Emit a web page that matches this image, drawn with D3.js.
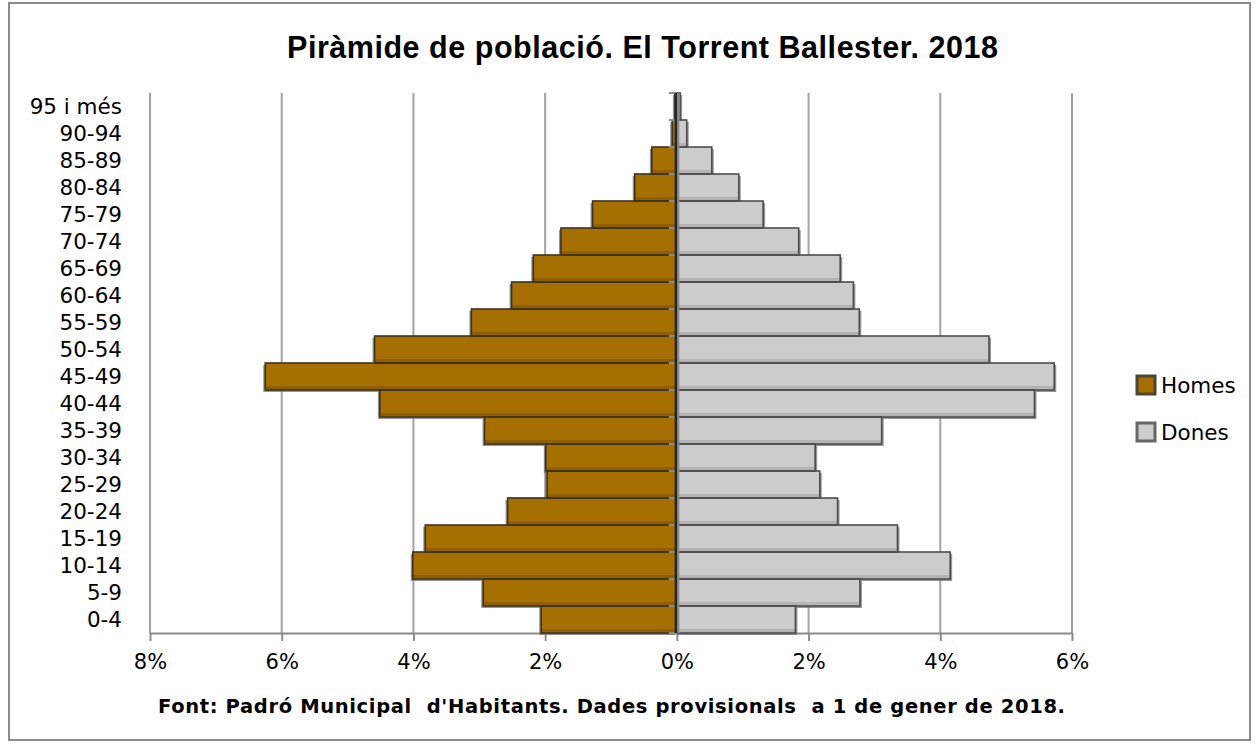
<!DOCTYPE html>
<html>
<head>
<meta charset="utf-8">
<script src="https://cdn.jsdelivr.net/npm/d3@7"></script>
<style>
  html, body { margin: 0; padding: 0; background: #fff; }
  svg { display: block; }
</style>
</head>
<body>
<svg id="chart" width="1259" height="746"></svg>
<script>
const ages = ["0-4","5-9","10-14","15-19","20-24","25-29","30-34","35-39","40-44","45-49",
              "50-54","55-59","60-64","65-69","70-74","75-79","80-84","85-89","90-94","95 i més"];
const homes = [2.06,2.94,4.01,3.82,2.57,1.97,1.99,2.92,4.51,6.25,4.59,3.12,2.51,2.18,1.76,1.28,0.64,0.38,0.07,0.03];
const dones = [1.80,2.78,4.15,3.35,2.44,2.17,2.10,3.11,5.43,5.73,4.74,2.77,2.68,2.48,1.85,1.31,0.94,0.53,0.15,0.05];
const tickValues = [-8,-6,-4,-2,0,2,4,6];
const tickLabels = ["8%","6%","4%","2%","0%","2%","4%","6%"];
const seriesNames = ["Homes","Dones"];
const titleText = "Piràmide de població. El Torrent Ballester. 2018";
const sourceText = "Font: Padró Municipal  d'Habitants. Dades provisionals  a 1 de gener de 2018.";

(function () {
const svg = d3.select("#chart");
const pL = 150, pR = 1072, pT = 93, pB = 633;
const lblFont = "'DejaVu Sans', sans-serif";

const x = d3.scaleLinear().domain([-8, 6]).range([pL, pR]);
const y = d3.scaleBand().domain(ages).range([pB, pT]).padding(0);

function fitSpacing(sel, target) {
  const n = sel.text().length;
  const w = sel.node().getComputedTextLength();
  sel.attr("letter-spacing", ((target - w) / (n - 1)).toFixed(3));
}

// outer frame
svg.append("rect").attr("x", 9).attr("y", 3).attr("width", 1241).attr("height", 737)
  .attr("fill", "#fff").attr("stroke", "#8c8c8c").attr("stroke-width", 2);

// title
const title = svg.append("text").attr("x", 287).attr("y", 58)
  .attr("font-family", "'Liberation Sans', Arial, sans-serif").attr("font-weight", "bold")
  .attr("font-size", 30.5).attr("fill", "#000").text(titleText);
fitSpacing(title, 711);

// grid lines
svg.append("g").selectAll("line").data(tickValues.filter(v => v !== 0)).join("line")
  .attr("x1", d => x(d)).attr("x2", d => x(d))
  .attr("y1", pT).attr("y2", pB)
  .attr("stroke", "#a3a3a3").attr("stroke-width", 2);

// bottom axis
const xAxis = d3.axisBottom(x).tickValues(tickValues)
  .tickFormat((d, i) => tickLabels[i]).tickSize(8).tickSizeOuter(0).tickPadding(13);
const gx = svg.append("g").attr("transform", `translate(0,${pB})`).call(xAxis);
gx.select(".domain").attr("stroke", "#8c8c8c").attr("stroke-width", 2);
gx.selectAll(".tick line").attr("stroke", "#8c8c8c").attr("stroke-width", 2);
gx.selectAll(".tick text").attr("font-family", lblFont).attr("font-size", 21).attr("fill", "#000");

// bars
function drawBars(vals, cls, fill, stroke, band, isLeft) {
  const g = svg.append("g").attr("class", cls);
  const data = ages.map((a, i) => ({ a, v: vals[i] }));
  g.selectAll("rect.sh").data(data).join("rect").attr("class", "sh")
    .attr("x", d => isLeft ? x(-d.v) - 2 : x(0))
    .attr("y", d => y(d.a) + 2)
    .attr("width", d => isLeft ? x(0) - x(-d.v) : x(d.v) - x(0) + 2)
    .attr("height", y.bandwidth())
    .attr("fill", "#7a7a7a").attr("opacity", 0.8);
  g.selectAll("rect.bar").data(data).join("rect").attr("class", "bar")
    .attr("x", d => isLeft ? x(-d.v) : x(0))
    .attr("y", d => y(d.a))
    .attr("width", d => isLeft ? x(0) - x(-d.v) : x(d.v) - x(0))
    .attr("height", y.bandwidth())
    .attr("fill", fill);
  g.selectAll("rect.band").data(data).join("rect").attr("class", "band")
    .attr("x", d => isLeft ? x(-d.v) : x(0))
    .attr("y", d => y(d.a) + y.bandwidth() - 4)
    .attr("width", d => isLeft ? x(0) - x(-d.v) : x(d.v) - x(0))
    .attr("height", 3)
    .attr("fill", band);
  g.selectAll("rect.ol").data(data).join("rect").attr("class", "ol")
    .attr("x", d => isLeft ? x(-d.v) : x(0))
    .attr("y", d => y(d.a))
    .attr("width", d => isLeft ? x(0) - x(-d.v) : x(d.v) - x(0))
    .attr("height", y.bandwidth())
    .attr("fill", "none").attr("stroke", stroke).attr("stroke-width", 1.6);
}
drawBars(homes, "homes", "#a66f02", "#3e3222", "#8e5f04", true);
drawBars(dones, "dones", "#cccccc", "#4d4d4d", "#b3b3b3", false);

// center axis with ticks
svg.append("g").selectAll("line").data(ages.concat(["_top"])).join("line")
  .attr("x1", x(0) - 8).attr("x2", x(0))
  .attr("y1", (d, i) => i < ages.length ? y(d) + y.bandwidth() : pT)
  .attr("y2", (d, i) => i < ages.length ? y(d) + y.bandwidth() : pT)
  .attr("stroke", "#8c8c8c").attr("stroke-width", 2);
svg.append("line").attr("x1", x(0) - 1).attr("x2", x(0) - 1).attr("y1", pT).attr("y2", pB)
  .attr("stroke", "#262626").attr("stroke-width", 2.5);
svg.append("line").attr("x1", x(0) + 1.5).attr("x2", x(0) + 1.5).attr("y1", pT).attr("y2", pB)
  .attr("stroke", "#8c8c8c").attr("stroke-width", 2);

// category labels (left side)
svg.append("g").selectAll("text").data(ages).join("text")
  .attr("x", 122).attr("y", d => y(d) + y.bandwidth() / 2)
  .attr("dy", "0.36em").attr("text-anchor", "end")
  .attr("font-family", lblFont).attr("font-size", 21.5).attr("fill", "#000")
  .text(d => d);

// legend
const legY = [385, 432];
const legFill = ["#a66f02", "#cccccc"];
const legStroke = ["#4d4535", "#666666"];
const lg = svg.append("g");
seriesNames.forEach((n, i) => {
  lg.append("rect").attr("x", 1137).attr("y", legY[i] - 9).attr("width", 18).attr("height", 18)
    .attr("fill", legFill[i]).attr("stroke", legStroke[i]).attr("stroke-width", 3);
  lg.append("text").attr("x", 1161).attr("y", legY[i]).attr("dy", "0.36em")
    .attr("font-family", lblFont).attr("font-size", 21.5).attr("fill", "#000").text(n);
});

// source
const src = svg.append("text").attr("x", 158).attr("y", 713)
  .attr("font-family", lblFont).attr("font-weight", "bold").attr("font-size", 19.5)
  .attr("fill", "#000").style("white-space", "pre").text(sourceText);
fitSpacing(src, 907);
})();
</script>
</body>
</html>
